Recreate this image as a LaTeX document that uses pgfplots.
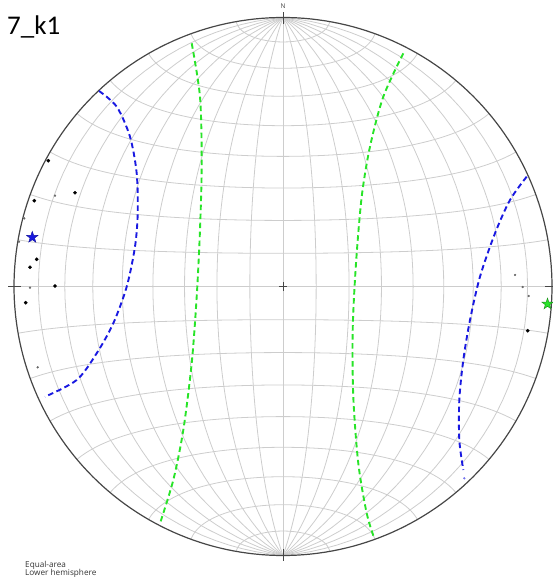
\documentclass[border=0pt]{standalone}
\usepackage{pgfplots}
\pgfplotsset{compat=1.18}
\usepackage{fontspec}
\setmainfont{Open Sans}
\newfontfamily\calib{Carlito}
\definecolor{gridc}{RGB}{205,205,205}
\definecolor{primc}{RGB}{70,70,70}
\definecolor{dblue}{RGB}{25,25,225}
\definecolor{dgreen}{RGB}{40,228,40}
\definecolor{sgreen}{RGB}{30,150,30}
\pgfdeclareplotmark{fstar}{%
  \pgfpathmoveto{\pgfpointpolar{90}{\pgfplotmarksize}}%
  \pgfpathlineto{\pgfpointpolar{126}{0.40\pgfplotmarksize}}%
  \pgfpathlineto{\pgfpointpolar{162}{\pgfplotmarksize}}%
  \pgfpathlineto{\pgfpointpolar{198}{0.40\pgfplotmarksize}}%
  \pgfpathlineto{\pgfpointpolar{234}{\pgfplotmarksize}}%
  \pgfpathlineto{\pgfpointpolar{270}{0.40\pgfplotmarksize}}%
  \pgfpathlineto{\pgfpointpolar{306}{\pgfplotmarksize}}%
  \pgfpathlineto{\pgfpointpolar{342}{0.40\pgfplotmarksize}}%
  \pgfpathlineto{\pgfpointpolar{18}{\pgfplotmarksize}}%
  \pgfpathlineto{\pgfpointpolar{54}{0.40\pgfplotmarksize}}%
  \pgfpathclose
  \pgfusepathqfillstroke}
\begin{document}
\begin{tikzpicture}
\begin{axis}[x=269pt,y=269pt,xmin=-1,xmax=1,ymin=-1,ymax=1,
  anchor=center,at={(0pt,0pt)},hide axis,clip=false]
% equal-area net: great circles (meridians)
\pgfplotsinvokeforeach{10,20,30,40,50,60,70,80}{
  \addplot[gridc,line width=0.8pt,variable=\t,domain=0:180,samples=61,forget plot]
    ({sin(\t)*cos(#1)/sqrt(1+sin(\t)*sin(#1))},{cos(\t)/sqrt(1+sin(\t)*sin(#1))});
  \addplot[gridc,line width=0.8pt,variable=\t,domain=0:180,samples=61,forget plot]
    ({-sin(\t)*cos(#1)/sqrt(1+sin(\t)*sin(#1))},{cos(\t)/sqrt(1+sin(\t)*sin(#1))});
}
\addplot[gridc,line width=0.8pt,forget plot] coordinates {(0,-1) (0,1)};
% small circles (parallels)
\pgfplotsinvokeforeach{10,20,30,40,50,60,70,80,90,100,110,120,130,140,150,160,170}{
  \addplot[gridc,line width=0.8pt,variable=\t,domain=0:180,samples=61,forget plot]
    ({sin(#1)*cos(\t)/sqrt(1+sin(#1)*sin(\t))},{cos(#1)/sqrt(1+sin(#1)*sin(\t))});
}
% primitive circle
\addplot[primc,line width=1.2pt,variable=\t,domain=0:360,samples=241,forget plot]
  ({cos(\t)},{sin(\t)});
\draw[primc,line width=0.8pt] (axis cs:0,0.975) -- (axis cs:0,1.022);
\draw[primc,line width=0.8pt] (axis cs:0,-0.975) -- (axis cs:0,-1.022);
\draw[primc,line width=0.8pt] (axis cs:-0.975,0) -- (axis cs:-1.022,0);
\draw[primc,line width=0.8pt] (axis cs:0.975,0) -- (axis cs:1.022,0);
\draw[primc,line width=0.7pt] (axis cs:-0.015,0) -- (axis cs:0.015,0);
\draw[primc,line width=0.7pt] (axis cs:0,-0.015) -- (axis cs:0,0.015);
% planes (dashed great circles)
\addplot[dgreen,line width=1.9pt,dash pattern=on 5.5pt off 3.5pt,smooth,tension=0.5] coordinates {
(-0.3394,0.9041) (-0.3086,0.7056) (-0.3022,0.4580) (-0.3086,0.2100) (-0.3208,-0.0379)
(-0.3394,-0.2855) (-0.3706,-0.5335) (-0.4078,-0.7193) (-0.4572,-0.8803)};
\addplot[dgreen,line width=1.9pt,dash pattern=on 5.5pt off 3.5pt,smooth,tension=0.5] coordinates {
(0.4472,0.8669) (0.3729,0.7056) (0.3234,0.5197) (0.2926,0.3338) (0.2714,0.0862)
(0.2591,-0.1617) (0.2613,-0.4097) (0.2799,-0.6572) (0.3112,-0.8431) (0.3400,-0.9380)};
\addplot[dblue,line width=1.9pt,dash pattern=on 5.5pt off 3.5pt,smooth,tension=0.5] coordinates {
(-0.6840,0.7270) (-0.6182,0.6684) (-0.5688,0.5569) (-0.5439,0.4208) (-0.5401,0.2721)
(-0.5502,0.1480) (-0.5810,-0.0007) (-0.6309,-0.1368) (-0.6926,-0.2483) (-0.7669,-0.3476)
(-0.8848,-0.4097)};
\addplot[dblue,line width=1.9pt,dash pattern=on 5.5pt off 3.5pt,smooth,tension=0.5] coordinates {
(0.9059,0.4082) (0.8439,0.3216) (0.7881,0.1978) (0.7323,0.0364) (0.6952,-0.1245)
(0.6703,-0.2732) (0.6554,-0.4219) (0.6554,-0.5706) (0.6703,-0.6822)};
% poles
\addplot[only marks,mark=*,mark size=0.95pt,color=black!60] coordinates {
(-0.8476,0.3375) (-0.9620,0.2530) (-0.9814,0.1665) (-0.9405,-0.0045) (-0.9119,-0.3004)
(0.8625,0.0428) (0.8911,-0.0019) (0.9134,-0.0353)};
\addplot[only marks,mark=*,mark size=0.95pt,color=dblue!60] coordinates {(0.674,-0.713)};
\addplot[only marks,mark=*,mark size=1.65pt,color=black] coordinates {
(-0.8725,0.4677) (-0.7732,0.3487) (-0.9245,0.3190) (-0.9156,0.1011) (-0.9405,0.0714)
(-0.8476,0.0019) (-0.9565,-0.0602) (0.9097,-0.1643)};
\addplot[only marks,mark=fstar,mark size=6pt,draw=dblue!70!black,fill=dblue,line width=0.4pt] coordinates {(-0.932,0.1829)};
\addplot[only marks,mark=fstar,mark size=5.8pt,draw=sgreen,fill=dgreen,line width=0.5pt] coordinates {(0.9833,-0.0651)};
\end{axis}
\node[anchor=base,inner sep=0pt,font=\fontsize{6.5}{7}\selectfont,text=black!75] at (0pt,277.5pt) {N};
\node[anchor=base west,inner sep=0pt,font=\calib\fontsize{27}{30}\selectfont] at (-276pt,251.5pt) {7\_k1};
\node[anchor=base west,inner sep=0pt,font=\fontsize{8.2}{9}\selectfont,text=black!80] at (-258pt,-280.5pt) {Equal-area};
\node[anchor=base west,inner sep=0pt,font=\fontsize{8.2}{9}\selectfont,text=black!80] at (-258pt,-289pt) {Lower hemisphere};
\pgfresetboundingbox
\path[use as bounding box] (-283pt,-298.5pt) rectangle (269pt,286.5pt);
\end{tikzpicture}
\end{document}
